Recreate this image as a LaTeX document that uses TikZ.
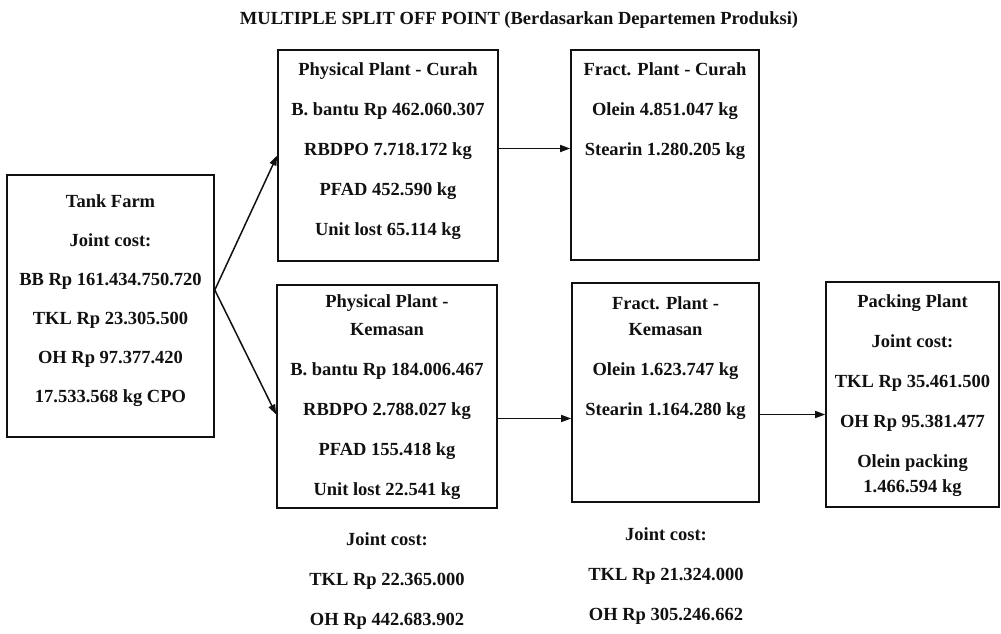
\documentclass[tikz,border=0pt]{standalone}
\usepackage{fontspec}
\setmainfont{Liberation Serif}
\usetikzlibrary{arrows.meta,positioning,calc}
\definecolor{ink}{HTML}{111111}
\tikzset{
  blk/.style={draw=ink,line width=1.6pt,inner sep=0pt},
  txt/.style={align=center,inner sep=0pt,anchor=north,text=ink,font=\fontsize{18.5}{40}\selectfont\bfseries},
  ar/.style={-{Triangle[length=10pt,width=7pt]},draw=ink,line width=1.5pt},
}

\begin{document}
\begin{tikzpicture}[x=1pt,y=-1pt]
\useasboundingbox (0,0) rectangle (1001,634);
\node[txt] (title) at (519,11) {MULTIPLE SPLIT OFF POINT (Berdasarkan Departemen Produksi)};
\node[blk,minimum width=207pt,minimum height=262pt] (tf) at (110.5,306) {};
\node[txt,font=\fontsize{18.5}{39}\selectfont\bfseries] (tftxt) at (110.5,194) {Tank Farm\\Joint cost:\\BB Rp 161.434.750.720\\TKL Rp 23.305.500\\OH Rp 97.377.420\\17.533.568 kg CPO};
\node[blk,minimum width=220pt,minimum height=211pt] (ppc) at (388,155.5) {};
\node[txt] (ppctxt) at (388,62) {Physical Plant - Curah\\B. bantu Rp 462.060.307\\RBDPO 7.718.172 kg\\PFAD 452.590 kg\\Unit lost 65.114 kg};
\node[blk,minimum width=188pt,minimum height=210pt] (fpc) at (665,155) {};
\node[txt] (fpctxt) at (665,62) {Fract. Plant - Curah\\Olein 4.851.047 kg\\Stearin 1.280.205 kg};
\node[blk,minimum width=220pt,minimum height=223pt] (ppk) at (387,396.5) {};
\node[txt] (ppktxt) at (387,294) {Physical Plant -\\[-12pt]Kemasan\\B. bantu Rp 184.006.467\\RBDPO 2.788.027 kg\\PFAD 155.418 kg\\Unit lost 22.541 kg};
\node[txt] (ppkjc) at (387,532) {Joint cost:\\TKL Rp 22.365.000\\OH Rp 442.683.902};
\node[blk,minimum width=187pt,minimum height=219pt] (fpk) at (665.5,392.5) {};
\node[txt] (fpktxt) at (665.5,296) {Fract. Plant -\\[-14pt]Kemasan\\Olein 1.623.747 kg\\Stearin 1.164.280 kg};
\node[txt] (fpkjc) at (666,527) {Joint cost:\\TKL Rp 21.324.000\\OH Rp 305.246.662};
\node[blk,minimum width=173pt,minimum height=225pt] (pack) at (912.5,394.5) {};
\node[txt] (packtxt) at (912.5,294) {Packing Plant\\Joint cost:\\TKL Rp 35.461.500\\OH Rp 95.381.477\\Olein packing\\[-15pt]1.466.594 kg};
\coordinate (tfout) at ([yshift=16pt]tf.east);
\draw[ar] (tfout) -- (ppc.west);
\draw[ar] (tfout) -- ([yshift=-18pt]ppk.west);
\draw[ar] ([yshift=7pt]ppc.east) -- ([yshift=7pt]ppc.east -| fpc.west);
\draw[ar] ([yshift=-22pt]ppk.east) -- ([yshift=-22pt]ppk.east -| fpk.west);
\draw[ar] ([yshift=-22pt]fpk.east) -- ([yshift=-22pt]fpk.east -| pack.west);
\end{tikzpicture}
\end{document}
